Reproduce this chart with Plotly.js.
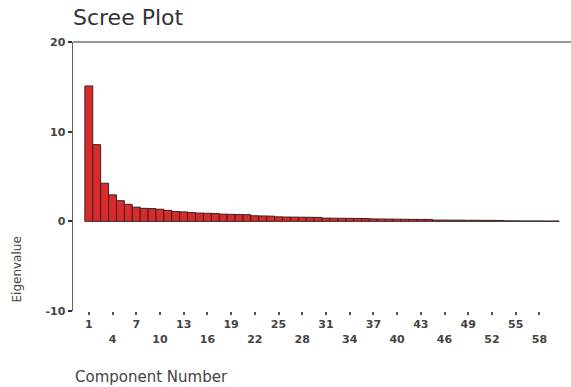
<!DOCTYPE html>
<html>
<head>
<meta charset="utf-8">
<script src="https://cdn.plot.ly/plotly-3.0.1.min.js"></script>
<style>html,body{margin:0;padding:0;background:#fff;}#chart{width:571px;height:387px;}</style>
</head>
<body>
<div id="chart"></div>
<script>
// Component numbers 1..60
const components = [1,2,3,4,5,6,7,8,9,10,11,12,13,14,15,16,17,18,19,20,
  21,22,23,24,25,26,27,28,29,30,31,32,33,34,35,36,37,38,39,40,
  41,42,43,44,45,46,47,48,49,50,51,52,53,54,55,56,57,58,59,60];
// Eigenvalues
const eigenvalues = [15.1,8.55,4.25,2.95,2.3,1.9,1.58,1.45,1.42,1.35,
  1.22,1.1,1.05,0.98,0.92,0.9,0.88,0.8,0.78,0.76,
  0.74,0.62,0.6,0.58,0.5,0.48,0.47,0.46,0.45,0.44,
  0.36,0.35,0.34,0.33,0.32,0.31,0.27,0.26,0.25,0.24,
  0.23,0.22,0.21,0.21,0.14,0.14,0.13,0.13,0.12,0.12,
  0.11,0.11,0.1,0.05,0.05,0.04,0.04,0.04,0.03,0.03];
const tickValues = [1,4,7,10,13,16,19,22,25,28,31,34,37,40,43,46,49,52,55,58];
const tickLabels = ["1","4","7","10","13","16","19","22","25","28","31","34","37","40","43","46","49","52","55","58"];
const yTickValues = [-10,0,10,20];
const yTickLabels = ["-10","0","10","20"];

const tickText = tickLabels.map((t,i)=> i%2===0 ? t : "<br>"+t);

const trace = {
  type:'bar', x:components, y:eigenvalues,
  marker:{color:'#d92b2b', line:{color:'#3a2222', width:1}},
  hoverinfo:'skip'
};

const layout = {
  width:571, height:387,
  margin:{l:73, r:0, t:42, b:76},
  paper_bgcolor:'#fff', plot_bgcolor:'#fff',
  bargap:0,
  showlegend:false,
  font:{family:'DejaVu Sans, sans-serif', color:'#444'},
  title:{text:'Scree Plot', font:{family:'DejaVu Sans, sans-serif', size:22, color:'#333'},
    xref:'container', yref:'container', x:73/571, xanchor:'left', y:1-17/387, yanchor:'middle'},
  xaxis:{range:[-1,62], showgrid:false, zeroline:false, showline:false,
    tickmode:'array', tickvals:tickValues, ticktext:tickText,
    ticks:'outside', ticklen:3, tickwidth:2, tickcolor:'#555',
    tickfont:{family:'DejaVu Sans, sans-serif', size:11, color:'#444', weight:'bold'}},
  yaxis:{range:[-10,20], showgrid:false, zeroline:false, showline:true, linecolor:'#666', linewidth:1.5,
    tickmode:'array', tickvals:yTickValues, ticktext:yTickLabels,
    ticks:'outside', ticklen:4, tickwidth:2, tickcolor:'#333',
    tickfont:{family:'DejaVu Sans, sans-serif', size:11, color:'#444', weight:'bold'}},
  shapes:[{type:'line', xref:'paper', yref:'paper', x0:0, x1:1, y0:1, y1:1, line:{color:'#777', width:1.5}}],
  annotations:[
    {text:'Component Number', xref:'paper', yref:'paper', x:0, xanchor:'left', y:(311-377)/269, yanchor:'middle',
      showarrow:false, font:{family:'DejaVu Sans, sans-serif', size:15, color:'#444'}},
    {text:'Eigenvalue', xref:'paper', yref:'paper', x:(16.5-73)/498, xanchor:'center', y:(311-270)/269, yanchor:'middle',
      textangle:-90, showarrow:false, font:{family:'DejaVu Sans, sans-serif', size:12, color:'#444'}}
  ]
};

Plotly.newPlot('chart', [trace], layout, {staticPlot:true, displayModeBar:false});
</script>
</body>
</html>
